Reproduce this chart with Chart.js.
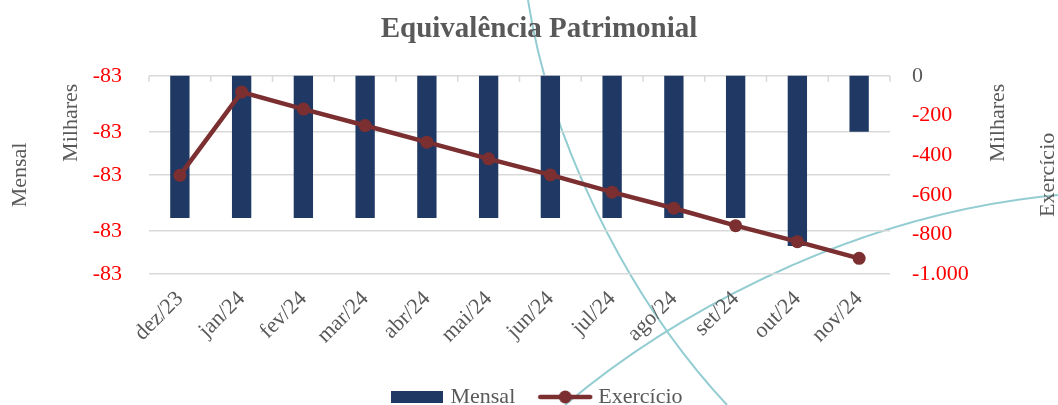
<!DOCTYPE html>
<html>
<head>
<meta charset="utf-8">
<script src="https://cdn.jsdelivr.net/npm/chart.js@4.4.1/dist/chart.umd.min.js"></script>
<style>
  html, body { margin: 0; padding: 0; background: #ffffff; }
  #wrap { position: relative; width: 1058px; height: 405px; overflow: hidden; }
  #deco { position: absolute; left: 0; top: 0; }
  #c { position: absolute; left: 0; top: 0; }
</style>
</head>
<body>
<div id="wrap">
  <svg id="deco" width="1058" height="405" viewBox="0 0 1058 405">
    <path fill="none" stroke="#93cdd2" stroke-width="2" d="M528,0 C548,130 620,290 727,405"/>
    <path fill="none" stroke="#93cdd2" stroke-width="2" d="M565,405 C660,325 840,215 1058,195"/>
  </svg>
  <canvas id="c" width="1058" height="405"></canvas>
</div>
<script>
// ---- data ----
const CATEGORIES = ['dez/23','jan/24','fev/24','mar/24','abr/24','mai/24','jun/24','jul/24','ago/24','set/24','out/24','nov/24'];
const MENSAL = [-83.174,-83.174,-83.174,-83.174,-83.174,-83.174,-83.174,-83.174,-83.174,-83.174,-83.287,-82.826];
const EXERCICIO = [-502,-82,-168,-251,-335,-419,-500,-587,-668,-756,-837,-921];
const LEFT_TICKS = [-82.6,-82.826,-83.0,-83.226,-83.4];
const RIGHT_TICKS = [0,-200,-400,-600,-800,-1000];
const SERIES_NAMES = ['Mensal','Exercício'];
const TITLE = 'Equivalência Patrimonial';

const FONT = "'Liberation Serif', 'Times New Roman', serif";
const GREY = '#595959';
const RED = '#ff0000';
const NAVY = '#1f3864';
const MAROON = '#7b2f30';
const GRID = '#d9d9d9';

function fmtThousands(v) {
  const s = Math.abs(Math.round(v)).toString().replace(/\B(?=(\d{3})+(?!\d))/g, '.');
  return (v < 0 ? '-' : '') + s;
}

// legend symbols
function makeRectSymbol() {
  const c = document.createElement('canvas');
  c.width = 52; c.height = 12;
  const g = c.getContext('2d');
  g.fillStyle = NAVY; g.fillRect(0, 0, 52, 12);
  return c;
}
function makeLineSymbol() {
  const c = document.createElement('canvas');
  c.width = 56; c.height = 16;
  const g = c.getContext('2d');
  g.strokeStyle = MAROON; g.lineWidth = 4.5; g.lineCap = 'round';
  g.beginPath(); g.moveTo(3, 8); g.lineTo(53, 8); g.stroke();
  g.fillStyle = MAROON; g.beginPath(); g.arc(28, 8, 6.5, 0, Math.PI * 2); g.fill();
  return c;
}
const SYM_RECT = makeRectSymbol();
const SYM_LINE = makeLineSymbol();

// decorations: top category tick marks + axis titles
const decoPlugin = {
  id: 'deco',
  beforeDatasetsDraw(chart) {
    const {ctx, chartArea, scales} = chart;
    const x = scales.x;
    const n = CATEGORIES.length;
    const pts = [chartArea.left];
    for (let i = 0; i < n - 1; i++) {
      pts.push((x.getPixelForTick(i) + x.getPixelForTick(i + 1)) / 2);
    }
    pts.push(chartArea.right);
    ctx.save();
    ctx.strokeStyle = GRID; ctx.lineWidth = 1.5;
    pts.forEach(p => {
      ctx.beginPath(); ctx.moveTo(p, chartArea.top); ctx.lineTo(p, chartArea.top + 6); ctx.stroke();
    });
    ctx.restore();
  },
  afterDraw(chart) {
    const {ctx, chartArea} = chart;
    const midY = (chartArea.top + chartArea.bottom) / 2;
    const topY = chartArea.top + 47;
    const items = [
      ['Mensal', 20, midY],
      ['Milhares', 71, topY],
      ['Milhares', 998, topY],
      ['Exercício', 1048, midY]
    ];
    ctx.save();
    ctx.fillStyle = GREY;
    ctx.font = '22px ' + FONT;
    ctx.textAlign = 'center'; ctx.textBaseline = 'middle';
    items.forEach(([t, x, y]) => {
      ctx.save(); ctx.translate(x, y); ctx.rotate(-Math.PI / 2); ctx.fillText(t, 0, 0); ctx.restore();
    });
    ctx.restore();
  }
};

new Chart(document.getElementById('c'), {
  data: {
    labels: CATEGORIES,
    datasets: [
      {
        type: 'bar', label: SERIES_NAMES[0], data: MENSAL, yAxisID: 'y',
        backgroundColor: NAVY, borderWidth: 0,
        categoryPercentage: 1, barPercentage: 0.313, order: 2
      },
      {
        type: 'line', label: SERIES_NAMES[1], data: EXERCICIO, yAxisID: 'y2',
        borderColor: MAROON, backgroundColor: MAROON, borderWidth: 4.5,
        pointRadius: 6.5, pointBackgroundColor: MAROON, pointBorderWidth: 0,
        tension: 0, order: 1
      }
    ]
  },
  options: {
    responsive: false,
    animation: false,
    devicePixelRatio: 1,
    layout: { padding: { left: 20, right: 0, top: 0, bottom: -13 } },
    plugins: {
      tooltip: { enabled: false },
      title: {
        display: true, text: TITLE, color: GREY,
        font: { family: FONT, size: 29, weight: 'bold' },
        padding: { top: 12, bottom: 29 }
      },
      legend: {
        display: true, position: 'bottom',
        labels: {
          color: GREY, font: { family: FONT, size: 22 }, padding: 28,
          usePointStyle: true, pointStyleWidth: 44,
          generateLabels() {
            return [
              { text: SERIES_NAMES[0], pointStyle: SYM_RECT, fillStyle: NAVY, strokeStyle: NAVY, lineWidth: 0, hidden: false, datasetIndex: 0, fontColor: GREY },
              { text: SERIES_NAMES[1], pointStyle: SYM_LINE, fillStyle: MAROON, strokeStyle: MAROON, lineWidth: 0, hidden: false, datasetIndex: 1, fontColor: GREY }
            ];
          }
        }
      }
    },
    scales: {
      x: {
        type: 'category', offset: true,
        grid: { display: false, drawTicks: false },
        border: { display: false },
        ticks: {
          color: GREY, font: { family: FONT, size: 22 },
          minRotation: 45, maxRotation: 45, autoSkip: false, padding: 12
        },
        afterFit(s) { s.height = 84; }
      },
      y: {
        type: 'linear', position: 'left',
        min: -83.4, max: -82.6,
        afterBuildTicks(s) { s.ticks = LEFT_TICKS.map(v => ({ value: v })); },
        grid: { color: GRID, lineWidth: 1.5, drawTicks: false },
        border: { display: false },
        ticks: {
          color: RED, font: { family: FONT, size: 22 }, padding: 27,
          callback: v => String(Math.round(v))
        },
        afterFit(s) { s.width = 129; }
      },
      y2: {
        type: 'linear', position: 'right',
        min: -1000, max: 0,
        afterBuildTicks(s) { s.ticks = RIGHT_TICKS.map(v => ({ value: v })); },
        grid: { drawOnChartArea: false, drawTicks: false },
        border: { display: false },
        ticks: {
          color: c => (c.tick && c.tick.value < 0 ? RED : GREY),
          font: { family: FONT, size: 22 }, padding: 22,
          callback: v => fmtThousands(v)
        },
        afterFit(s) { s.width = 168; }
      }
    }
  },
  plugins: [decoPlugin]
});
</script>
</body>
</html>
